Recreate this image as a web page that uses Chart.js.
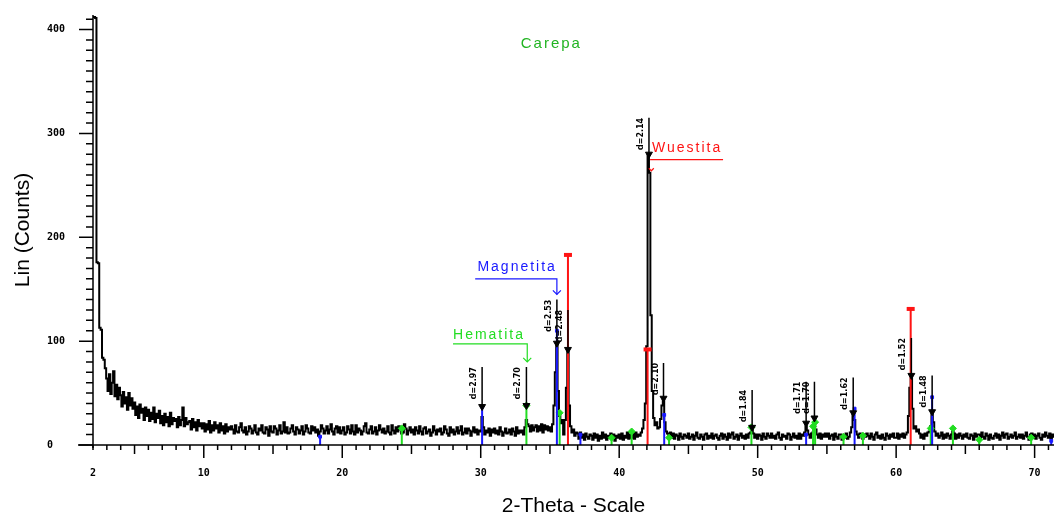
<!DOCTYPE html>
<html>
<head>
<meta charset="utf-8">
<script src="https://cdn.jsdelivr.net/npm/chart.js@4.4.1/dist/chart.umd.min.js"></script>
<style>
  html, body { margin: 0; padding: 0; background: #fff; }
  #xrd { display: block; }
</style>
</head>
<body>
<canvas id="xrd" width="1054" height="517"></canvas>
<script>
// scan: 2-Theta from 2.0 in 0.1 deg steps, one row per degree
const scanStart = 2.0;
const scanStep = 0.1;
const counts = [
  412, 412, 411, 176, 175, 113, 111, 84, 82, 74,
  64, 52, 68, 49, 60, 71, 47, 58, 44, 55,
  48, 37, 51, 40, 46, 34, 50, 38, 45, 35,
  41, 29, 37, 26, 39, 31, 35, 24, 36, 28,
  34, 23, 31, 25, 36, 22, 30, 26, 33, 21,
  28, 19, 30, 22, 27, 18, 31, 20, 26, 23,
  25, 17, 27, 19, 24, 36, 18, 26, 20, 22,
  23, 15, 25, 17, 22, 14, 24, 18, 21, 16,
  21, 13, 20, 15, 23, 12, 19, 14, 22, 16,
  19, 12, 21, 14, 18, 11, 20, 13, 17, 15,
  18, 15, 11, 19, 13, 12, 17, 21, 14, 12,
  17, 10, 13, 18, 16, 11, 14, 19, 12, 10,
  16, 14, 19, 12, 11, 17, 15, 9, 18, 13,
  12, 18, 16, 10, 14, 19, 11, 13, 22, 12,
  17, 11, 12, 16, 19, 13, 10, 17, 15, 11,
  14, 18, 10, 13, 19, 16, 12, 11, 18, 14,
  17, 12, 15, 9, 13, 19, 16, 11, 14, 18,
  11, 15, 20, 13, 10, 16, 18, 12, 17, 11,
  14, 17, 10, 12, 18, 15, 11, 19, 13, 10,
  19, 12, 16, 14, 10, 13, 18, 21, 12, 11,
  15, 18, 11, 13, 17, 10, 14, 19, 15, 12,
  16, 11, 13, 18, 12, 10, 19, 14, 11, 17,
  13, 18, 15, 11, 12, 20, 16, 10, 14, 17,
  12, 15, 10, 17, 14, 11, 18, 13, 10, 16,
  17, 11, 13, 15, 9, 12, 18, 14, 10, 15,
  13, 16, 10, 12, 18, 15, 11, 9, 17, 12,
  15, 10, 13, 17, 11, 14, 18, 10, 12, 16,
  11, 16, 14, 9, 13, 17, 12, 15, 10, 14,
  13, 27, 17, 10, 14, 12, 16, 9, 15, 12,
  16, 11, 14, 10, 17, 13, 9, 12, 16, 11,
  12, 15, 10, 16, 13, 9, 17, 11, 14, 12,
  14, 10, 17, 24, 20, 18, 13, 19, 14, 17,
  19, 13, 18, 14, 20, 12, 19, 15, 18, 14,
  17, 13, 20, 38, 70, 98, 52, 28, 21, 24,
  10, 24, 55, 92, 38, 18, 12, 15, 9, 12,
  11, 6, 12, 7, 10, 5, 11, 8, 6, 10,
  9, 5, 11, 7, 10, 4, 9, 6, 12, 7,
  10, 5, 9, 7, 11, 6, 10, 4, 9, 7,
  10, 6, 11, 5, 9, 7, 12, 6, 10, 7,
  11, 6, 12, 8, 10, 9, 12, 16, 24, 40,
  95, 280, 262, 125, 52, 26, 19, 22, 16, 17,
  25, 38, 45, 22, 13, 11, 9, 12, 7, 11,
  6, 10, 9, 5, 11, 8, 6, 10, 9, 7,
  11, 6, 8, 10, 5, 9, 12, 7, 6, 10,
  8, 5, 10, 11, 6, 9, 7, 11, 6, 9,
  10, 7, 5, 9, 11, 6, 10, 8, 5, 11,
  7, 10, 12, 6, 8, 10, 5, 9, 11, 7,
  9, 6, 10, 7, 11, 12, 16, 11, 7, 10,
  6, 10, 9, 5, 11, 8, 6, 11, 9, 7,
  11, 7, 9, 6, 10, 12, 7, 5, 10, 8,
  9, 6, 11, 10, 5, 8, 11, 7, 9, 6,
  11, 6, 10, 9, 12, 18, 14, 10, 7, 11,
  12, 22, 15, 10, 7, 11, 6, 10, 8, 11,
  8, 11, 6, 9, 10, 5, 11, 8, 6, 10,
  10, 5, 9, 7, 11, 6, 8, 12, 17, 31,
  24, 13, 10, 7, 11, 9, 6, 10, 8, 11,
  9, 6, 11, 8, 5, 10, 12, 7, 9, 6,
  10, 7, 5, 11, 9, 6, 10, 8, 11, 7,
  7, 11, 6, 10, 8, 11, 7, 10, 12, 28,
  55, 67, 35, 16, 18, 13, 15, 11, 7, 10,
  6, 11, 9, 12, 13, 18, 32, 22, 13, 9,
  11, 7, 9, 12, 6, 10, 7, 11, 9, 6,
  10, 15, 11, 6, 10, 7, 11, 9, 6, 10,
  8, 11, 7, 6, 10, 9, 5, 11, 8, 10,
  10, 7, 12, 8, 6, 11, 9, 5, 10, 7,
  6, 9, 11, 7, 10, 5, 9, 12, 7, 10,
  11, 6, 8, 10, 7, 9, 12, 6, 8, 10,
  7, 10, 6, 9, 12, 8, 5, 10, 11, 7,
  10, 6, 9, 11, 7, 5, 10, 8, 12, 9,
  7, 11, 6, 10, 8
];

const xTickLabels = [2, 10, 20, 30, 40, 50, 60, 70];
const yTickLabels = [0, 100, 200, 300, 400];

// reference patterns (stick positions / heights)
const wuestitaPos = [36.3, 42.05, 61.05];
const wuestitaInt = [183, 92, 131];
const magnetitaPos = [18.4, 30.1, 35.5, 37.2, 43.25, 53.5, 57.0, 62.6, 71.2];
const magnetitaInt = [8, 37, 110, 10, 29, 10, 35, 46, 4];
const hematitaPos = [24.3, 33.3, 35.7, 39.45, 40.9, 43.6, 49.55, 54.0, 54.15, 56.2, 57.6, 62.5, 64.1, 66.0, 69.75];
const hematitaInt = [16, 38, 31, 7, 13, 7, 17, 18, 22, 8, 9, 16, 16, 5, 7];

// peak search results
const peakPos = [30.1, 33.3, 35.5, 36.3, 42.15, 43.2, 49.6, 53.5, 54.1, 56.9, 61.1, 62.6];
const peakMark = [37, 38, 98, 92, 280, 45, 17, 21, 26, 31, 67, 32];
const peakTop = [75, 75, 140, 130, 315, 79, 53, 61, 61, 65, 103, 67];
const peakLabels = ['d=2.97', 'd=2.70', 'd=2.53', 'd=2.48', 'd=2.14', 'd=2.10', 'd=1.84', 'd=1.71', 'd=1.70', 'd=1.62', 'd=1.52', 'd=1.48'];

const RED = '#ff1414';
const BLUE = '#1818ff';
const GREEN = '#22dd22';

function sticks(pos, ints) {
  const pts = [];
  pos.forEach((p, i) => {
    pts.push({ x: p, y: 0 }, { x: p, y: ints[i] }, { x: p, y: null });
  });
  return pts;
}

function stickSet(pos, ints, color, style, radius, pw) {
  return {
    data: sticks(pos, ints),
    borderColor: color,
    backgroundColor: color,
    borderWidth: 2,
    spanGaps: false,
    pointStyle: style,
    pointRadius: (ctx) => (ctx.dataIndex % 3 === 1 ? radius : 0),
    pointBorderWidth: pw,
    pointBorderColor: color,
    pointBackgroundColor: color,
  };
}

const scanPoints = counts.map((c, i) => ({ x: +(scanStart + i * scanStep).toFixed(2), y: c }));

const peakLines = [];
peakPos.forEach((p, i) => {
  peakLines.push({ x: p, y: peakMark[i] }, { x: p, y: peakTop[i] }, { x: p, y: null });
});

const annotations = [
  { text: 'Hematita', color: GREEN, at: [28.0, 106], path: [[28.0, 97.3], [33.36, 97.3], [33.36, 80]], arrow: true },
  { text: 'Magnetita', color: BLUE, at: [29.76, 171.6], path: [[29.6, 160], [35.5, 160], [35.5, 145]], arrow: true },
  { text: 'Wuestita', color: RED, at: [42.37, 286], path: [[42.23, 274.7], [47.5, 274.7]], arrow: false, tip: [42.32, 264] },
];

const decor = {
  id: 'decor',
  afterDraw(chart) {
    const { ctx } = chart;
    const x = chart.scales.x;
    const y = chart.scales.y;
    const x0 = x.getPixelForValue(x.min);
    const y0 = y.getPixelForValue(0);
    ctx.save();
    ctx.strokeStyle = '#000';
    ctx.lineWidth = 1.5;
    // axis lines
    ctx.beginPath();
    ctx.moveTo(x0 - 15, y0);
    ctx.lineTo(x.right, y0);
    ctx.moveTo(x0, y.top);
    ctx.lineTo(x0, y0 + 3);
    ctx.stroke();
    // x ticks every degree
    ctx.beginPath();
    for (let d = Math.ceil(x.min); d <= x.max; d++) {
      const px = x.getPixelForValue(d);
      const len = d % 10 === 0 ? 13 : (d % 5 === 0 ? 9 : 5);
      ctx.moveTo(px, y0);
      ctx.lineTo(px, y0 + len);
    }
    // y ticks every 10 counts
    for (let v = 0; v <= y.max; v += 10) {
      const py = y.getPixelForValue(v);
      const len = v % 100 === 0 ? 14 : 7;
      ctx.moveTo(x0, py);
      ctx.lineTo(x0 - len, py);
    }
    ctx.stroke();

    // d-spacing labels
    ctx.fillStyle = '#000';
    ctx.font = 'bold 8px "DejaVu Sans"';
    peakLabels.forEach((lab, i) => {
      const px = x.getPixelForValue(peakPos[i]);
      const py = y.getPixelForValue(peakTop[i]);
      ctx.save();
      ctx.translate(px - 8, py);
      ctx.rotate(-Math.PI / 2);
      ctx.textAlign = 'right';
      ctx.textBaseline = 'middle';
      ctx.fillText(lab, 0, 0);
      ctx.restore();
    });

    // phase annotations
    ctx.font = '14px "Liberation Sans", Arial, sans-serif';
    ctx.letterSpacing = '2px';
    ctx.textAlign = 'left';
    ctx.textBaseline = 'middle';
    ctx.lineWidth = 1.2;
    annotations.forEach((a) => {
      ctx.fillStyle = a.color;
      ctx.strokeStyle = a.color;
      ctx.fillText(a.text, x.getPixelForValue(a.at[0]), y.getPixelForValue(a.at[1]));
      ctx.beginPath();
      a.path.forEach((p, i) => {
        const px = x.getPixelForValue(p[0]);
        const py = y.getPixelForValue(p[1]);
        if (i === 0) ctx.moveTo(px, py); else ctx.lineTo(px, py);
      });
      ctx.stroke();
      let tip = null;
      if (a.arrow) tip = a.path[a.path.length - 1];
      if (a.tip) tip = a.tip;
      if (tip) {
        const tx = x.getPixelForValue(tip[0]);
        const ty = y.getPixelForValue(tip[1]);
        const s = a.arrow ? 4 : 2.5;
        ctx.beginPath();
        ctx.moveTo(tx - s, ty - s);
        ctx.lineTo(tx, ty);
        ctx.lineTo(tx + s, ty - s);
        ctx.stroke();
      }
    });

    // sample name
    ctx.fillStyle = '#22b422';
    ctx.font = '15px "Liberation Sans", Arial, sans-serif';
    ctx.letterSpacing = '2px';
    ctx.textAlign = 'center';
    ctx.fillText('Carepa', x.getPixelForValue(35.1), y.getPixelForValue(386.5));
    ctx.restore();
  },
};

const tickFont = { family: '"DejaVu Sans Mono", monospace', size: 10, weight: 'bold' };
const titleFont = { family: '"Liberation Sans", Arial, sans-serif', size: 21 };
// transparent tick marks only reserve room for the labels; visible ticks are drawn by the plugin
const hiddenTicks = (len) => ({ display: true, drawOnChartArea: false, drawTicks: true, tickLength: len, color: 'rgba(0,0,0,0)' });

new Chart(document.getElementById('xrd'), {
  type: 'line',
  data: {
    datasets: [
      {
        data: peakLines,
        borderColor: '#000',
        borderWidth: 1.5,
        pointRadius: 0,
        spanGaps: false,
      },
      {
        data: peakPos.map((p, i) => ({ x: p, y: peakMark[i] })),
        showLine: false,
        pointStyle: 'triangle',
        rotation: 180,
        pointRadius: 4,
        pointBackgroundColor: '#000',
        pointBorderColor: '#000',
        pointBorderWidth: 1,
      },
      stickSet(wuestitaPos, wuestitaInt, RED, 'line', 4, 4),
      stickSet(magnetitaPos, magnetitaInt, BLUE, 'rect', 2, 1),
      stickSet(hematitaPos, hematitaInt, GREEN, 'rectRot', 3.5, 1),
      {
        data: scanPoints,
        borderColor: '#000',
        borderWidth: 2,
        pointRadius: 0,
        stepped: 'middle',
      },
    ],
  },
  options: {
    responsive: false,
    animation: false,
    devicePixelRatio: 1,
    layout: { autoPadding: false, padding: { top: 15, right: 0, bottom: 0, left: 0 } },
    plugins: { legend: { display: false }, tooltip: { enabled: false } },
    scales: {
      x: {
        type: 'linear',
        min: 2,
        max: 71.4,
        grid: hiddenTicks(22),
        border: { display: false },
        afterBuildTicks: (scale) => { scale.ticks = xTickLabels.map((v) => ({ value: v })); },
        afterFit: (scale) => { scale.height = 72; },
        ticks: { autoSkip: false, maxRotation: 0, padding: 0, color: '#000', font: tickFont },
        title: {
          display: true,
          text: '2-Theta - Scale',
          color: '#000',
          font: { ...titleFont, lineHeight: 1 },
          padding: { top: 0, bottom: 0 },
        },
      },
      y: {
        min: 0,
        max: 414,
        grid: hiddenTicks(28),
        border: { display: false },
        afterBuildTicks: (scale) => { scale.ticks = yTickLabels.map((v) => ({ value: v })); },
        afterFit: (scale) => { scale.width = 93; },
        ticks: {
          padding: 0,
          color: '#000',
          font: tickFont,
          callback: (v) => String(v).padEnd(3, ' '),
        },
        title: {
          display: true,
          text: 'Lin (Counts)',
          color: '#000',
          font: titleFont,
          padding: { top: 11, bottom: 0 },
        },
      },
    },
  },
  plugins: [decor],
});
</script>
</body>
</html>
